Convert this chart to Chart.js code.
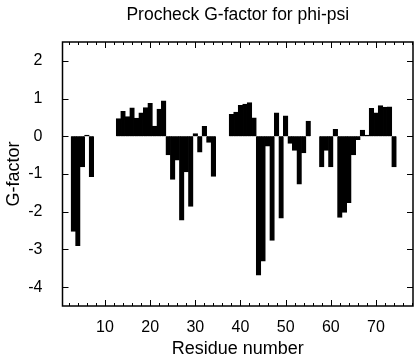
<!DOCTYPE html>
<html><head><meta charset="utf-8">
<script src="https://cdn.jsdelivr.net/npm/chart.js@4/dist/chart.umd.min.js"></script>
<style>html,body{margin:0;padding:0;background:#fff}#wrap{width:416px;height:360px}</style>
</head><body><div id="wrap"><canvas id="c" width="416" height="360"></canvas></div>
<script>
const residues = [3,4,5,6,7,13,14,15,16,17,18,19,20,21,22,23,24,25,26,27,28,29,30,31,32,33,34,
  38,39,40,41,42,43,44,45,46,47,48,49,50,51,52,53,54,55,58,59,60,61,62,63,64,65,66,67,68,69,70,71,72,73,74];
const gFactor = [-2.52,-2.90,-0.81,0.03,-1.07,
  0.47,0.66,0.52,0.75,0.48,0.62,0.76,0.87,0.27,0.72,0.94,-0.49,-1.14,-0.63,-2.22,-0.94,-1.86,0.07,-0.42,0.26,-0.16,-1.06,
  0.58,0.64,0.82,0.85,0.89,0.49,-3.68,-3.31,-0.26,-2.76,0.62,-2.17,0.54,-0.19,-0.37,-1.27,-0.44,0.40,
  -0.81,-0.37,-0.81,0.18,-2.15,-2.02,-1.76,-0.49,-0.09,0.16,0.03,0.74,0.62,0.81,0.77,0.78,-0.81];
const xTickValues = [10,20,30,40,50,60,70];
const yTickValues = [2,1,0,-1,-2,-3,-4];
const xMinorStep = 2;
const FONT = 'Liberation Sans';

const frameTicks = {
  id: 'frameTicks',
  afterDraw(chart) {
    const {ctx, chartArea: a, scales: {x, y}} = chart;
    ctx.save();
    ctx.strokeStyle = '#000';
    ctx.lineWidth = 1.5;
    ctx.strokeRect(a.left, a.top, a.right - a.left, a.bottom - a.top);
    ctx.lineWidth = 1;
    ctx.beginPath();
    for (let v = Math.ceil(x.min / xMinorStep) * xMinorStep; v <= x.max; v += xMinorStep) {
      const px = Math.round(x.getPixelForValue(v)) + 0.5;
      const len = xTickValues.includes(v) ? 6 : 3;
      ctx.moveTo(px, a.bottom); ctx.lineTo(px, a.bottom - len);
      ctx.moveTo(px, a.top); ctx.lineTo(px, a.top + len);
    }
    yTickValues.forEach(v => {
      const py = Math.round(y.getPixelForValue(v)) + 0.5;
      ctx.moveTo(a.left, py); ctx.lineTo(a.left + 6, py);
      ctx.moveTo(a.right, py); ctx.lineTo(a.right - 6, py);
    });
    ctx.stroke();
    ctx.restore();
  }
};

new Chart(document.getElementById('c'), {
  type: 'bar',
  data: {
    datasets: [{
      data: residues.map((r, i) => ({x: r, y: gFactor[i]})),
      backgroundColor: '#000',
      borderColor: '#000',
      borderWidth: 0.8,
      inflateAmount: 0.4,
      barPercentage: 1,
      categoryPercentage: 1
    }]
  },
  options: {
    responsive: false,
    animation: false,
    devicePixelRatio: 1,
    layout: {padding: {left: 0, right: 3, top: 0, bottom: 0}},
    plugins: {
      legend: {display: false},
      tooltip: {enabled: false},
      title: {
        display: true, text: 'Procheck G-factor for phi-psi', color: '#000',
        font: {family: FONT, size: 17.5, weight: 'normal'},
        padding: {top: 4.5, bottom: 16.5}, fullSize: false
      }
    },
    scales: {
      x: {
        type: 'linear', min: 0.6, max: 78.2, offset: false,
        afterBuildTicks: s => { s.ticks = xTickValues.map(v => ({value: v})); },
        afterFit: s => { s.height = 54; },
        grid: {display: false}, border: {display: false},
        ticks: {color: '#000', font: {family: FONT, size: 16}, padding: 4, maxRotation: 0, autoSkip: false},
        title: {display: true, text: 'Residue number', color: '#000', font: {family: FONT, size: 18}, padding: {top: 4, bottom: 0}}
      },
      y: {
        min: -4.5, max: 2.5,
        afterBuildTicks: s => { s.ticks = yTickValues.map(v => ({value: v})); },
        afterFit: s => { s.width = 62.5; },
        grid: {display: false}, border: {display: false},
        ticks: {color: '#000', font: {family: FONT, size: 16}, padding: 12},
        title: {display: true, text: 'G-factor', color: '#000', font: {family: FONT, size: 18}, padding: {top: 3.5, bottom: 8}}
      }
    }
  },
  plugins: [frameTicks]
});
</script></body></html>
